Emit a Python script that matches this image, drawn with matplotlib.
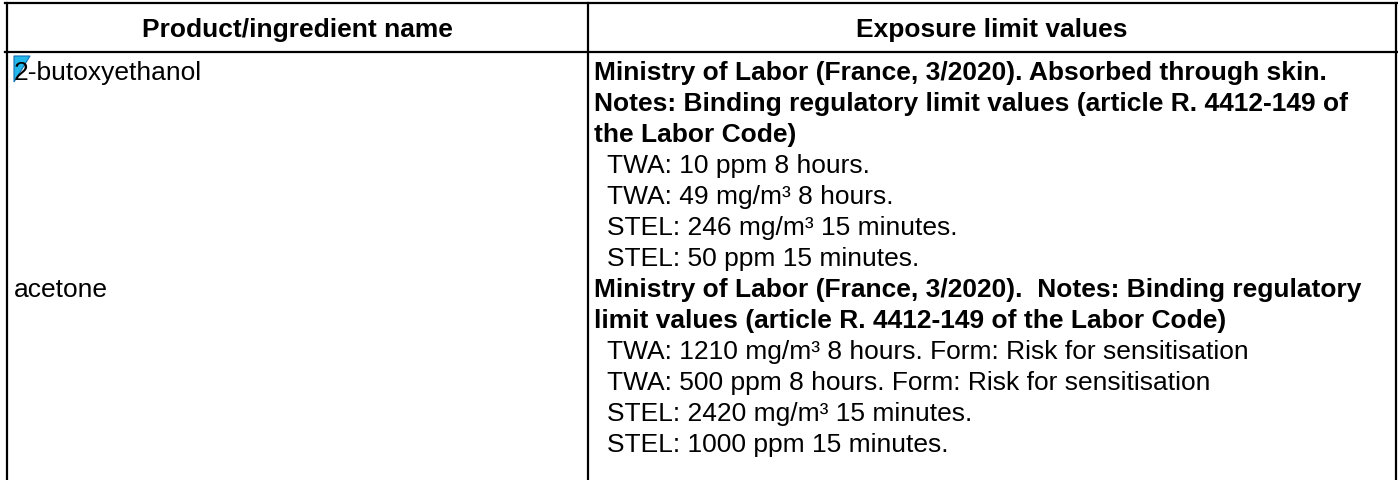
import matplotlib.pyplot as plt
from matplotlib.patches import Polygon

plt.rcParams['font.family'] = ['Liberation Sans', 'DejaVu Sans']

# table content
headers = ['Product/ingredient name', 'Exposure limit values']
products = ['2-butoxyethanol', 'acetone']
sources = [
    ['Ministry of Labor (France, 3/2020). Absorbed through skin.',
     'Notes: Binding regulatory limit values (article R. 4412-149 of',
     'the Labor Code)'],
    ['Ministry of Labor (France, 3/2020).  Notes: Binding regulatory',
     'limit values (article R. 4412-149 of the Labor Code)'],
]
limits = [
    ['TWA: 10 ppm 8 hours.',
     'TWA: 49 mg/m³ 8 hours.',
     'STEL: 246 mg/m³ 15 minutes.',
     'STEL: 50 ppm 15 minutes.'],
    ['TWA: 1210 mg/m³ 8 hours. Form: Risk for sensitisation',
     'TWA: 500 ppm 8 hours. Form: Risk for sensitisation',
     'STEL: 2420 mg/m³ 15 minutes.',
     'STEL: 1000 ppm 15 minutes.'],
]

W, H = 1398, 481
fig = plt.figure(figsize=(W / 100, H / 100), dpi=100)
ax = fig.add_axes([0, 0, 1, 1])
ax.set_xlim(0, W)
ax.set_ylim(H, 0)
ax.axis('off')

fs = 19
x_left, x_mid, x_right = 7, 588, 1396
y_top, y_head = 4, 53
lw = 1.6

# grid lines
ax.plot([x_left - 2, x_right + 1], [y_top, y_top], color='black', lw=lw)
ax.plot([x_left - 2, x_right + 1], [y_head, y_head], color='black', lw=lw)
for xv in (x_left, x_mid, x_right):
    ax.plot([xv, xv], [y_top, H], color='black', lw=lw)

# header
ax.text((x_left + x_mid) / 2, 37, headers[0], fontsize=fs, fontweight='bold',
        ha='center', va='baseline')
ax.text((x_mid + x_right) / 2, 37, headers[1], fontsize=fs, fontweight='bold',
        ha='center', va='baseline')

# body lines
y0, dy = 80, 31.0
line = 0
for prod, src, lim in zip(products, sources, limits):
    ax.text(14, y0 + line * dy, prod, fontsize=fs, ha='left', va='baseline', zorder=3)
    for s in src:
        ax.text(594, y0 + line * dy, s, fontsize=fs, fontweight='bold',
                ha='left', va='baseline')
        line += 1
    for s in lim:
        ax.text(607, y0 + line * dy, s, fontsize=fs, ha='left', va='baseline')
        line += 1

# cyan marker over the "2" of the first product
ax.add_patch(Polygon([(14, y0 - 23), (30, y0 - 23), (14, y0 + 3)], closed=True,
                     facecolor='#22B8EC', edgecolor='#1570B0', lw=0.8, zorder=2))

fig.savefig('out.png', dpi=100)
